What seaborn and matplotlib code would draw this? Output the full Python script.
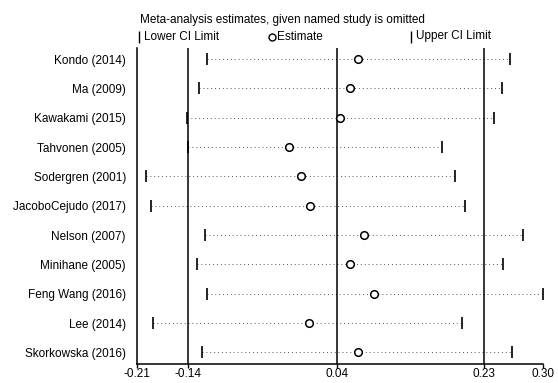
import matplotlib
matplotlib.use("Agg")
import matplotlib.pyplot as plt
from matplotlib.lines import Line2D
import seaborn as sns
import pandas as pd

studies = ["Kondo (2014)", "Ma (2009)", "Kawakami (2015)", "Tahvonen (2005)",
           "Sodergren (2001)", "JacoboCejudo (2017)", "Nelson (2007)",
           "Minihane (2005)", "Feng Wang (2016)", "Lee (2014)", "Skorkowska (2016)"]
lower = [-0.122, -0.132, -0.147, -0.146, -0.199, -0.192, -0.124, -0.135, -0.122, -0.190, -0.128]
estimate = [0.068, 0.058, 0.045, -0.019, -0.004, 0.007, 0.076, 0.058, 0.088, 0.006, 0.068]
upper = [0.259, 0.249, 0.239, 0.174, 0.190, 0.203, 0.275, 0.250, 0.301, 0.199, 0.262]

overall_lower = -0.146
overall_est = 0.041
overall_upper = 0.226
axis_min = -0.21
axis_max = 0.30
tick_values = [axis_min, overall_lower, overall_est, overall_upper, axis_max]
tick_labels = ["-0.21", "-0.14", "0.04", "0.23", "0.30"]
legend_labels = ["Lower CI Limit", "Estimate", "Upper CI Limit"]

df = pd.DataFrame({"study": studies, "lower": lower, "estimate": estimate, "upper": upper})
df["row"] = range(1, len(df) + 1)

sns.set_theme(style="white")
plt.rcParams["font.family"] = ["Liberation Sans", "DejaVu Sans"]
FS = 8.5

W, H = 558, 383
fig = plt.figure(figsize=(5.58, 3.83), dpi=100)
ax = fig.add_axes([137 / W, 1 - 363.5 / H, (542.5 - 137) / W, (363.5 - 48) / H])

# dotted CI lines
for _, r in df.iterrows():
    ax.plot([r["lower"], r["upper"]], [r["row"], r["row"]], linestyle=(0, (1, 3)),
            color="#555555", lw=0.7, zorder=1)

# overall reference lines
for v in [overall_lower, overall_est, overall_upper]:
    ax.axvline(v, color="black", lw=1.1, zorder=2)

sns.scatterplot(data=df, x="lower", y="row", marker="|", s=70, color="black",
                linewidth=1.2, ax=ax, zorder=3, legend=False)
sns.scatterplot(data=df, x="upper", y="row", marker="|", s=70, color="black",
                linewidth=1.2, ax=ax, zorder=3, legend=False)
sns.scatterplot(data=df, x="estimate", y="row", marker="o", s=30, facecolor="white",
                edgecolor="black", linewidth=1.1, ax=ax, zorder=4, legend=False)

ax.set_xlim(axis_min, axis_max)
ax.set_ylim(11.375, 0.625)
ax.set_xticks(tick_values)
ax.set_xticklabels(tick_labels, fontsize=FS)
ax.set_yticks(df["row"])
ax.set_yticklabels(df["study"], fontsize=FS)
ax.tick_params(axis="x", direction="out", length=3, width=1, pad=0, colors="black", bottom=True)
ax.tick_params(axis="y", length=0, pad=8, colors="black")
ax.set_xlabel("")
ax.set_ylabel("")
for s in ["top", "right"]:
    ax.spines[s].set_visible(False)
for s in ["left", "bottom"]:
    ax.spines[s].set_color("black")
    ax.spines[s].set_linewidth(1.1)

fig.text(140 / W, 1 - 20 / H, "Meta-analysis estimates, given named study is omitted",
         fontsize=FS, ha="left", va="center", color="black")

# legend row (marker + text)
leg_y = 1 - 36.5 / H
legend_specs = [(138.5, "|", 8, "black"), (272, "o", 5, "white"), (410.5, "|", 8, "black")]
for (px, mk, ms, fc), lab in zip(legend_specs, legend_labels):
    fig.add_artist(Line2D([px / W], [leg_y], marker=mk, markersize=ms, color="black",
                          markerfacecolor=fc, markeredgewidth=1, linestyle="none",
                          transform=fig.transFigure))
    fig.text((px + 5) / W, leg_y, lab, fontsize=FS, ha="left", va="center", color="black")

fig.savefig("out.png", dpi=100)
